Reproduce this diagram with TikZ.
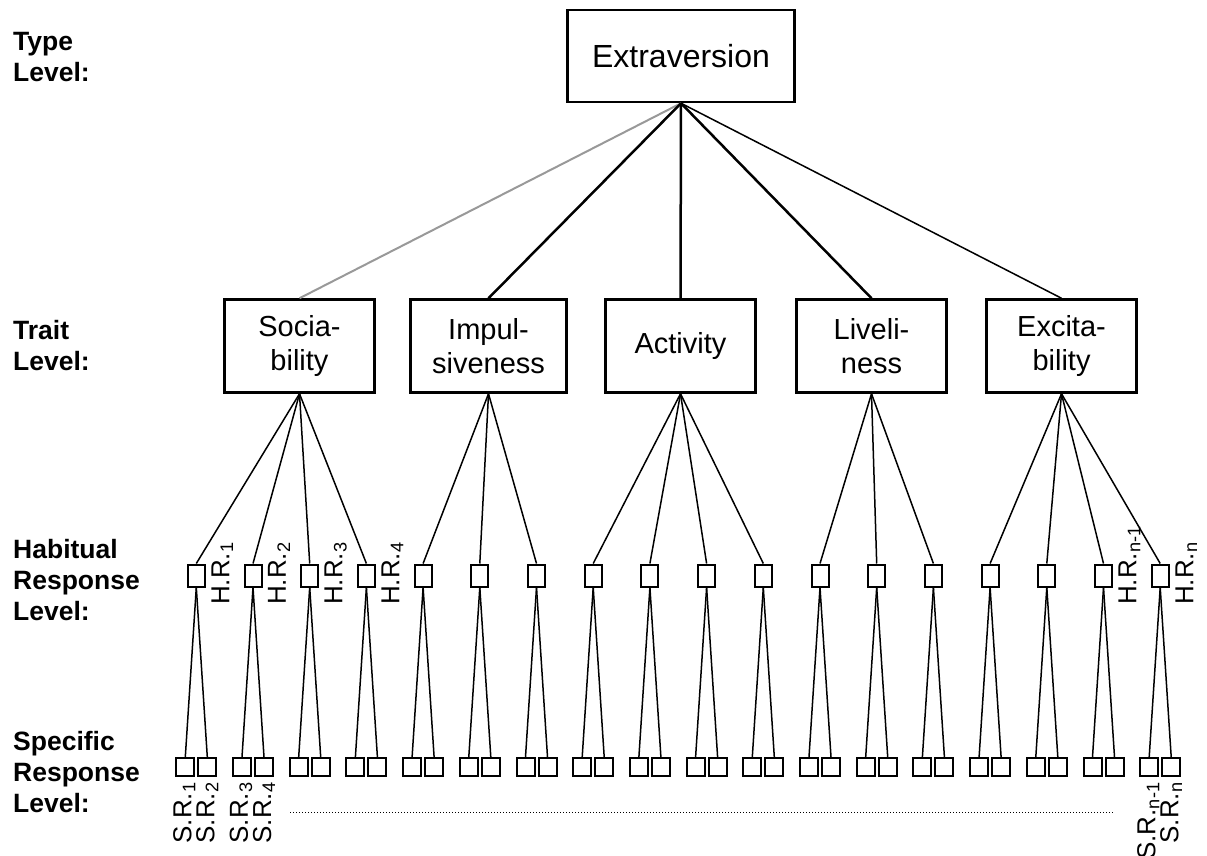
\documentclass[tikz,border=0pt]{standalone}
\usepackage{fontspec}
\setmainfont{Liberation Sans}
\usetikzlibrary{positioning}

\tikzset{
  topbox/.style={draw, line width=2.5pt, minimum width=227pt, minimum height=92pt, inner sep=0pt, font=\fontsize{32}{38}\selectfont},
  traitbox/.style={draw, line width=2.5pt, minimum width=150pt, minimum height=93pt, inner sep=0pt, align=center, font=\fontsize{29}{34}\selectfont},
  hrbox/.style={draw, line width=2pt, minimum width=17pt, minimum height=22pt, inner sep=0pt},
  srbox/.style={draw, line width=2pt, minimum width=18pt, minimum height=18pt, inner sep=0pt},
  levellabel/.style={anchor=north west, align=left, inner sep=0pt, font=\fontsize{26.5}{31}\selectfont\bfseries},
  resplabel/.style={rotate=90, inner sep=0pt, font=\fontsize{26}{30}\selectfont},
  link/.style={line width=1.5pt},
  mainlink/.style={line width=2.5pt},
}

\begin{document}
\begin{tikzpicture}[x=1pt, y=-1pt]
  \useasboundingbox (0,0) rectangle (1207,856);

  % level names
  \node[levellabel] (typelab) at (13,32) {Type\\Level:};
  \node[levellabel] (traitlab) at (13,320) {Trait\\Level:};
  \node[levellabel] (habitlab) at (13,539) {Habitual\\Response\\Level:};
  \node[levellabel] (speclab) at (13,731) {Specific\\Response\\Level:};

  % type and traits
  \node[topbox] (ext) at (681,56) {Extraversion};
  \node[traitbox] (soc) at (299.5,346) {Socia-\\bility};
  \node[traitbox, minimum width=156pt] (imp) at (488.5,346) {Impul-\\siveness};
  \node[traitbox] (act) at (680.5,346) {Activity};
  \node[traitbox] (liv) at (871.5,346) {Liveli-\\ness};
  \node[traitbox] (exc) at (1061.5,346) {Excita-\\bility};

  \draw[line width=2pt, draw=black!40] (ext.south) -- (soc.north);
  \draw[mainlink] (ext.south) -- (imp.north);
  \draw[mainlink] (ext.south) -- (act.north);
  \draw[mainlink] (ext.south) -- (liv.north);
  \draw[link] (ext.south) -- (exc.north);

  % habitual and specific responses
  \foreach \i in {1,...,18} {
    \pgfmathsetmacro\hx{196.3+56.7*(\i-1)}
    \node[hrbox] (hr\i) at (\hx,575.5) {};
    \node[srbox] (srl\i) at (\hx-11,767) {};
    \node[srbox] (srr\i) at (\hx+11,767) {};
    \draw[link] (hr\i.south) -- (srl\i.north);
    \draw[link] (hr\i.south) -- (srr\i.north);
  }

  \foreach \i in {1,...,4} \draw[link] (soc.south) -- (hr\i.north);
  \foreach \i in {5,6,7} \draw[link] (imp.south) -- (hr\i.north);
  \foreach \i in {8,...,11} \draw[link] (act.south) -- (hr\i.north);
  \foreach \i in {12,13,14} \draw[link] (liv.south) -- (hr\i.north);
  \foreach \i in {15,...,18} \draw[link] (exc.south) -- (hr\i.north);

  % labels
  \foreach \i/\t in {1/1,2/2,3/3,4/4,17/n-1,18/n} {
    \pgfmathsetmacro\hx{196.3+56.7*(\i-1)}
    \node[resplabel, anchor=west] (hrlab\i) at (\hx+26,605) {H.R.\textsubscript{\t}};
  }
  \foreach \i/\a/\b in {1/1/2,2/3/4,18/n-1/n} {
    \pgfmathsetmacro\hx{196.3+56.7*(\i-1)}
    \node[resplabel, anchor=east] (srlab\a) at (\hx-12,782) {S.R.\textsubscript{\a}};
    \node[resplabel, anchor=east] (srlab\b) at (\hx+11,782) {S.R.\textsubscript{\b}};
  }

  \coordinate (dotl) at (290,812);
  \coordinate (dotr) at (1113,812);
  \draw[line width=1pt, dash pattern=on 1pt off 2pt] (dotl) -- (dotr);
\end{tikzpicture}
\end{document}
